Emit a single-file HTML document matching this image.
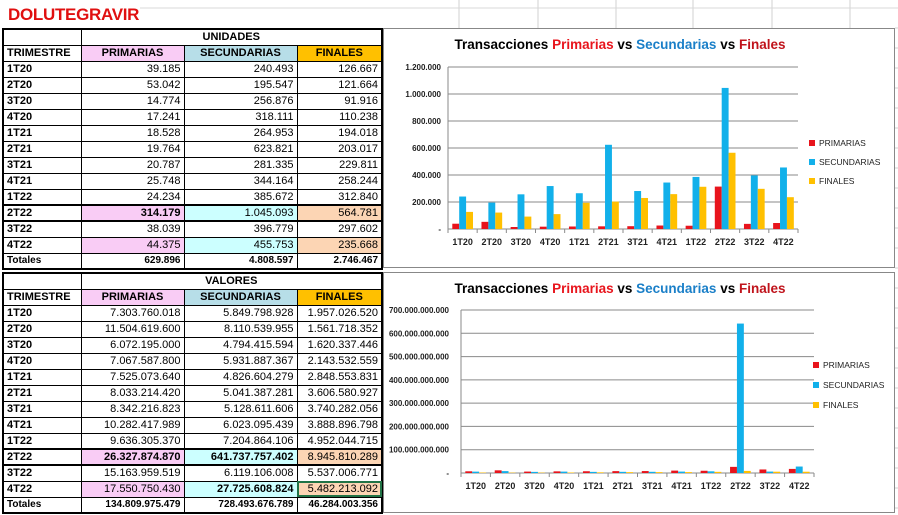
<!DOCTYPE html>
<html><head><meta charset="utf-8">
<style>
*{margin:0;padding:0;box-sizing:border-box}
body{width:898px;height:515px;background:#fff;position:relative;overflow:hidden;font-family:"Liberation Sans",Arial,sans-serif}
#title{position:absolute;left:8px;top:5px;color:#e01010;font-weight:bold;font-size:17px;letter-spacing:-0.3px}
table{position:absolute;left:2px;border-collapse:collapse;table-layout:fixed;border:2px solid #000;font-size:11px}
td{border:1px solid #000;padding:0 3px;white-space:nowrap;overflow:hidden;text-align:right;line-height:14px}
td.l{text-align:left;font-weight:bold}
td.h{text-align:center;font-weight:bold}
.p{background:#f9ccf5}.s{background:#b7dee8}.f{background:#ffc000}
.pp{background:#f9ccf5}.ss{background:#ccffff}.ff{background:#fcd5b4}
.b{font-weight:bold}
tr.thick td{border-top:2px solid #000;border-bottom:2px solid #000}
tr.tot td{font-weight:bold;font-size:10px}
svg{position:absolute;left:0;top:0}
</style></head><body>
<svg id="bg" width="898" height="515"></svg>
<div id="title">DOLUTEGRAVIR</div>
<table style="top:28px;width:381px">
<colgroup><col style="width:78px"><col style="width:103px"><col style="width:113px"><col style="width:85px"></colgroup>
<tr style="height:16px"><td></td><td colspan="3" class="h">UNIDADES</td></tr>
<tr style="height:16px"><td class="l">TRIMESTRE</td><td class="h p">PRIMARIAS</td><td class="h s">SECUNDARIAS</td><td class="h f">FINALES</td></tr>
<tr style="height:16px"><td class="l">1T20</td><td>39.185</td><td>240.493</td><td>126.667</td></tr>
<tr style="height:16px"><td class="l">2T20</td><td>53.042</td><td>195.547</td><td>121.664</td></tr>
<tr style="height:16px"><td class="l">3T20</td><td>14.774</td><td>256.876</td><td>91.916</td></tr>
<tr style="height:16px"><td class="l">4T20</td><td>17.241</td><td>318.111</td><td>110.238</td></tr>
<tr style="height:16px"><td class="l">1T21</td><td>18.528</td><td>264.953</td><td>194.018</td></tr>
<tr style="height:16px"><td class="l">2T21</td><td>19.764</td><td>623.821</td><td>203.017</td></tr>
<tr style="height:16px"><td class="l">3T21</td><td>20.787</td><td>281.335</td><td>229.811</td></tr>
<tr style="height:16px"><td class="l">4T21</td><td>25.748</td><td>344.164</td><td>258.244</td></tr>
<tr style="height:16px"><td class="l">1T22</td><td>24.234</td><td>385.672</td><td>312.840</td></tr>
<tr style="height:16px" class="thick"><td class="l">2T22</td><td class="pp b">314.179</td><td class="ss">1.045.093</td><td class="ff">564.781</td></tr>
<tr style="height:16px"><td class="l">3T22</td><td>38.039</td><td>396.779</td><td>297.602</td></tr>
<tr style="height:16px"><td class="l">4T22</td><td class="pp">44.375</td><td class="ss">455.753</td><td class="ff">235.668</td></tr>
<tr style="height:14px" class="tot"><td class="l">Totales</td><td>629.896</td><td>4.808.597</td><td>2.746.467</td></tr>
</table>
<table style="top:272px;width:381px">
<colgroup><col style="width:78px"><col style="width:103px"><col style="width:113px"><col style="width:85px"></colgroup>
<tr style="height:16px"><td></td><td colspan="3" class="h">VALORES</td></tr>
<tr style="height:16px"><td class="l">TRIMESTRE</td><td class="h p">PRIMARIAS</td><td class="h s">SECUNDARIAS</td><td class="h f">FINALES</td></tr>
<tr style="height:16px"><td class="l">1T20</td><td>7.303.760.018</td><td>5.849.798.928</td><td>1.957.026.520</td></tr>
<tr style="height:16px"><td class="l">2T20</td><td>11.504.619.600</td><td>8.110.539.955</td><td>1.561.718.352</td></tr>
<tr style="height:16px"><td class="l">3T20</td><td>6.072.195.000</td><td>4.794.415.594</td><td>1.620.337.446</td></tr>
<tr style="height:16px"><td class="l">4T20</td><td>7.067.587.800</td><td>5.931.887.367</td><td>2.143.532.559</td></tr>
<tr style="height:16px"><td class="l">1T21</td><td>7.525.073.640</td><td>4.826.604.279</td><td>2.848.553.831</td></tr>
<tr style="height:16px"><td class="l">2T21</td><td>8.033.214.420</td><td>5.041.387.281</td><td>3.606.580.927</td></tr>
<tr style="height:16px"><td class="l">3T21</td><td>8.342.216.823</td><td>5.128.611.606</td><td>3.740.282.056</td></tr>
<tr style="height:16px"><td class="l">4T21</td><td>10.282.417.989</td><td>6.023.095.439</td><td>3.888.896.798</td></tr>
<tr style="height:16px"><td class="l">1T22</td><td>9.636.305.370</td><td>7.204.864.106</td><td>4.952.044.715</td></tr>
<tr style="height:16px" class="thick"><td class="l">2T22</td><td class="pp b">26.327.874.870</td><td class="ss b">641.737.757.402</td><td class="ff">8.945.810.289</td></tr>
<tr style="height:16px"><td class="l">3T22</td><td>15.163.959.519</td><td>6.119.106.008</td><td>5.537.006.771</td></tr>
<tr style="height:16px"><td class="l">4T22</td><td class="pp">17.550.750.430</td><td class="ss b">27.725.608.824</td><td class="ff" style="outline:2px solid #217346;outline-offset:-2px">5.482.213.092</td></tr>
<tr style="height:16px" class="tot"><td class="l">Totales</td><td>134.809.975.479</td><td>728.493.676.789</td><td>46.284.003.356</td></tr>
</table>
<svg id="ch" width="898" height="515"></svg>
<script>
var NS="http://www.w3.org/2000/svg";
function el(svg,t,a,txt){var e=document.createElementNS(NS,t);for(var k in a)e.setAttribute(k,a[k]);if(txt!=null)e.textContent=txt;svg.appendChild(e);return e;}
var bg=document.getElementById('bg');
[459,538,616,693,772,850].forEach(function(x){el(bg,'line',{x1:x,y1:0,x2:x,y2:28,stroke:'#d0d0d0'});});
el(bg,'line',{x1:140,y1:8,x2:898,y2:8,stroke:'#d8d8d8'});
for(var y=28;y<515;y+=20)el(bg,'line',{x1:895,y1:y,x2:898,y2:y,stroke:'#d0d0d0'});
var ch=document.getElementById('ch');
var cats=['1T20','2T20','3T20','4T20','1T21','2T21','3T21','4T21','1T22','2T22','3T22','4T22'];
var cols=['#e8141c','#12b0ea','#ffc000'];
var names=['PRIMARIAS','SECUNDARIAS','FINALES'];
function chart(o){
 el(ch,'rect',{x:383.5,y:o.top+0.5,width:511,height:o.h,fill:'#fff',stroke:'#888'});
 var t=el(ch,'text',{x:620,y:o.top+21,'text-anchor':'middle','font-size':'13.5','font-weight':'bold','font-family':'Liberation Sans, sans-serif'});
 [['Transacciones ','#000'],['Primarias','#e8141c'],[' vs ','#000'],['Secundarias','#1a7fc8'],[' vs ','#000'],['Finales','#c0141c']].forEach(function(p){el(t,'tspan',{fill:p[1]},p[0]);});
 var x0=o.x0,x1=o.x1,yt=o.yt,yb=o.yb,n=o.ticks.length-1;
 for(var i=0;i<=n;i++){var y=yb-(yb-yt)*i/n;
  el(ch,'line',{x1:x0,y1:y,x2:x1,y2:y,stroke:'#8a8a8a','stroke-width':1});
  el(ch,'text',{x:o.lx,y:y+3,'text-anchor':'end','font-size':'8','font-weight':'bold','font-family':'Liberation Sans, sans-serif',fill:'#222'},o.ticks[i]);}
 el(ch,'line',{x1:x0,y1:yt,x2:x0,y2:yb+4,stroke:'#8a8a8a'});
 var gw=(x1-x0)/12;
 for(var c=0;c<12;c++){
  el(ch,'line',{x1:x0+gw*(c+1),y1:yb,x2:x0+gw*(c+1),y2:yb+4,stroke:'#8a8a8a'});
  el(ch,'text',{x:x0+gw*(c+0.5),y:yb+16,'text-anchor':'middle','font-size':'9','font-weight':'bold','font-family':'Liberation Sans, sans-serif',fill:'#222'},cats[c]);
  for(var s=0;s<3;s++){var v=o.d[s][c];var hh=(yb-yt)*v/o.max;
   el(ch,'rect',{x:x0+gw*c+4.3+s*6.9,y:yb-hh,width:6.9,height:hh,fill:cols[s]});}
 }
 for(var s=0;s<3;s++){var y=o.ly+s*o.lg;
  el(ch,'rect',{x:o.lgx,y:y-6,width:6,height:6,fill:cols[s]});
  el(ch,'text',{x:o.lgx+10,y:y,'font-size':'8.5','font-family':'Liberation Sans, sans-serif',fill:'#222'},names[s]);}
}
chart({top:28,h:239,x0:448,x1:798,yt:67,yb:229,lx:441,max:1200000,
 ticks:['-','200.000','400.000','600.000','800.000','1.000.000','1.200.000'],
 ly:146,lg:19,lgx:809,
 d:[[39185,53042,14774,17241,18528,19764,20787,25748,24234,314179,38039,44375],
    [240493,195547,256876,318111,264953,623821,281335,344164,385672,1045093,396779,455753],
    [126667,121664,91916,110238,194018,203017,229811,258244,312840,564781,297602,235668]]});
chart({top:272,h:240,x0:461,x1:814,yt:310,yb:473,lx:449,max:700,
 ticks:['-','100.000.000.000','200.000.000.000','300.000.000.000','400.000.000.000','500.000.000.000','600.000.000.000','700.000.000.000'],
 ly:368,lg:20,lgx:813,
 d:[[7.3,11.5,6.07,7.07,7.53,8.03,8.34,10.28,9.64,26.33,15.16,17.55],
    [5.85,8.11,4.79,5.93,4.83,5.04,5.13,6.02,7.2,641.74,6.12,27.73],
    [1.96,1.56,1.62,2.14,2.85,3.61,3.74,3.89,4.95,8.95,5.54,5.48]]});
</script>
</body></html>
